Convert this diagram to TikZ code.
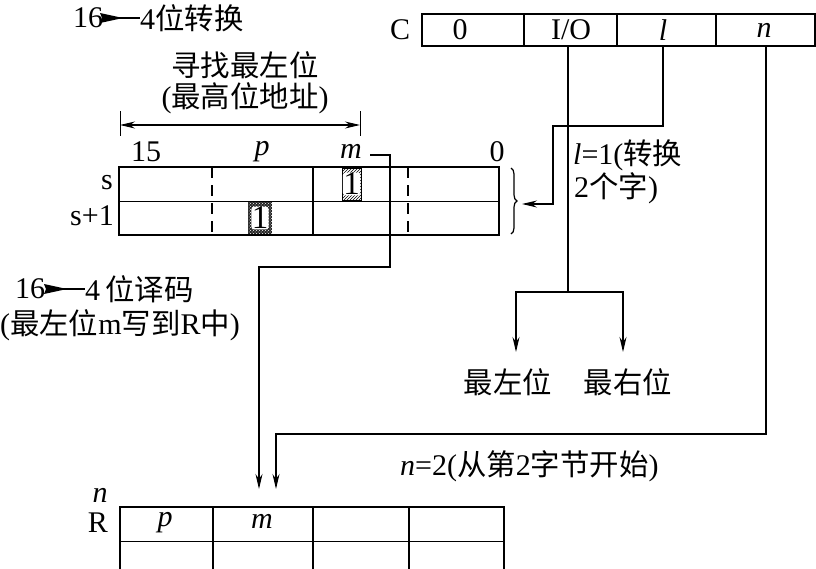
\documentclass[tikz,border=0pt]{standalone}
\usepackage{fontspec}
\setmainfont{Liberation Serif}
\newfontfamily\cjk[Scale=0.98]{Noto Sans CJK SC}
\usetikzlibrary{arrows.meta,patterns,decorations.pathreplacing}
\newcommand\zh[1]{{\cjk #1}}
\begin{document}
\begin{tikzpicture}[x=1pt,y=-1pt, font=\fontsize{30}{32}\selectfont,
  reg/.style={line width=1.6pt},
  inner/.style={line width=1pt},
  conn/.style={line width=1.2pt},
  dsh/.style={line width=1.2pt, dash pattern=on 11pt off 7pt},
  arr/.style={conn,-{Stealth[length=15pt,width=7pt,inset=5pt]}},
  lbl/.style={inner sep=0pt},
  one/.style={inner xsep=0.3pt, inner ysep=0.5pt, fill=white, rounded corners=2.5pt, font=\fontsize{33}{33}\selectfont},
]
\useasboundingbox (0,0) rectangle (816,568);

% ---- top-left title
\node[lbl, anchor=west] (t1a) at (73,18) {16};
\node[lbl, anchor=west] (t1b) at (140,18) {4\zh{位转换}};
\draw[line width=2pt] (116,18) -- (t1b.west);
\fill (102,18) -- (100,13) -- (123,18) -- (100,23) -- cycle;

% ---- search label + dimension
\node[lbl] (srch) at (245,65) {\zh{寻找最左位}};
\node[lbl] (srch2) at (245,98) {(\zh{最高位地址})};
\coordinate (dl) at (120,125);
\coordinate (dr) at (360,125);
\draw[inner] (120,111) -- (120,136);
\draw[inner] (360,111) -- (360,136);
\draw[conn,{Stealth[length=15pt,width=7pt,inset=5pt]}-{Stealth[length=15pt,width=7pt,inset=5pt]}] (dl) -- (dr);

% ---- register s
\node[lbl] (b15) at (146,152) {15};
\node[lbl] (bp) at (262,152) {\textit{p}};
\node[lbl] (bm) at (351,151) {\textit{m}};
\node[lbl] (b0) at (497,152) {0};
\node[lbl, anchor=east] (ls) at (113,183) {s};
\node[lbl, anchor=east] (ls1) at (114,216) {s+1};

\fill[pattern=north east lines] (342,168) rectangle (361,200);
\draw[inner] (342,168) rectangle (361,200);
\node[one] (h1) at (351.5,184) {1};
\fill[black!85] (248,202) rectangle (272,234);
\fill[pattern=crosshatch dots, pattern color=white] (248,202) rectangle (272,234);
\node[one] (d1) at (260,218) {1};

\draw[inner] (119,201) -- (499,201);
\draw[reg] (313,167) -- (313,235);
\draw[dsh] (212,167) -- (212,235);
\draw[dsh] (408,167) -- (408,235);
\draw[reg] (119,167) rectangle (499,235);
\draw[conn,decorate,decoration={brace,amplitude=6pt}] (511,168) -- (511,234);
\coordinate (btip) at (522,204);

% ---- register C
\node[lbl] (lC) at (400,30) {C};
\draw[reg] (422,14) rectangle (815,46);
\draw[reg] (524,14) -- (524,46);
\draw[reg] (617,14) -- (617,46);
\draw[reg] (716,14) -- (716,46);
\node[lbl] (c0) at (460,30) {0};
\node[lbl] (cio) at (571,30) {I/O};
\node[lbl] (cl) at (663,30) {\textit{l}};
\node[lbl] (cn) at (764,30) {\textit{n}};
\coordinate (Cio) at (568,46);
\coordinate (Cl) at (663,46);
\coordinate (Cn) at (766,46);

% ---- l label
\node[lbl, anchor=west] (lt1) at (573,155) {\textit{l}=1(\zh{转换}};
\node[lbl, anchor=west] (lt2) at (574,188) {2\zh{个字})};

% ---- decode label
\node[lbl, anchor=west] (t2a) at (15,289) {16};
\node[lbl, anchor=west] (t2b) at (85,289) {4\,\zh{位译码}};
\draw[line width=2pt] (60,289) -- (t2b.west);
\fill (46,289) -- (44,284) -- (67,289) -- (44,294) -- cycle;
\node[lbl, anchor=west] (t3) at (0,325) {(\zh{最左位}m\zh{写到}R\zh{中})};

% ---- left / right most
\node[lbl] (lm) at (508,382) {\zh{最左位}};
\node[lbl] (rm) at (628,382) {\zh{最右位}};
\coordinate (split) at (568,292);
\coordinate (Ltip) at (516,352);
\coordinate (Rtip) at (623,352);

% ---- n label
\node[lbl, anchor=west] (nt) at (400,466) {\textit{n}=2(\zh{从第}2\zh{字节开始})};

% ---- register R
\node[lbl] (rn) at (100,495) {\textit{n}};
\node[lbl] (rR) at (98,523) {R};
\draw[inner] (120,541) -- (504,541);
\draw[reg] (213,507) -- (213,600);
\draw[reg] (313,507) -- (313,600);
\draw[reg] (409,507) -- (409,600);
\draw[reg] (120,600) -- (120,507) -- (504,507) -- (504,600);
\node[lbl] (rp) at (165,523) {\textit{p}};
\node[lbl] (rmm) at (262,521) {\textit{m}};
\coordinate (mR) at (259,489);
\coordinate (nR) at (276,489);
\coordinate (mstart) at (370,155);

% ---- connectors
\draw[arr] (Cl) -- (663,126) -- (553,126) -- (553,204) -- (btip);
\draw[conn] (Cio) -- (split);
\draw[arr] (split) -| (Ltip);
\draw[arr] (split) -| (Rtip);
\draw[arr] (mstart) -- (390,155) -- (390,267) -- (259,267) -- (mR);
\draw[arr] (Cn) -- (766,434) -- (276,434) -- (nR);
\end{tikzpicture}
\end{document}
